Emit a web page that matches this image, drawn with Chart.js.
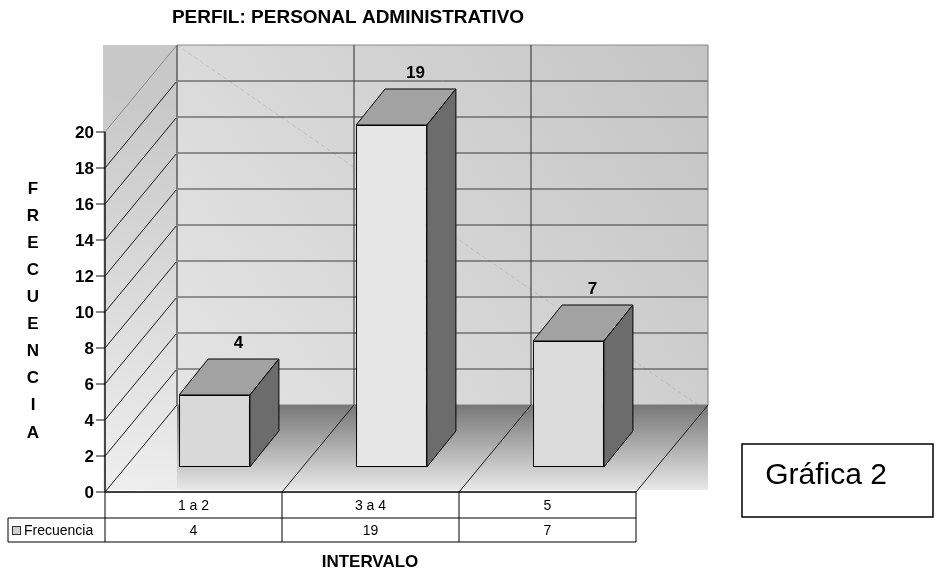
<!DOCTYPE html>
<html>
<head>
<meta charset="utf-8">
<script src="https://cdn.jsdelivr.net/npm/chart.js@4/dist/chart.umd.min.js"></script>
<style>
  html, body { margin: 0; padding: 0; background: #fff; }
  canvas { display: block; }
</style>
</head>
<body>
<canvas id="perfilChart" width="938" height="575"></canvas>
<script>
const categories = ['1 a 2', '3 a 4', '5'];
const frecuencia = [4, 19, 7];
const yTicks = [0, 2, 4, 6, 8, 10, 12, 14, 16, 18, 20];
const seriesName = 'Frecuencia';
const yTitle = 'FRECUENCIA';

const FONT = "'Liberation Sans', Arial, sans-serif";
// offsets from the plane where the bars stand to the front edge / back wall
const FRONT = { dx: -21, dy: 25 };
const BACK = { dx: 51, dy: -62 };
const BAR_DEPTH = { dx: 29, dy: -36 };

function poly(ctx, pts, fill, stroke, lw) {
    ctx.beginPath();
    ctx.moveTo(pts[0][0], pts[0][1]);
    for (let i = 1; i < pts.length; i++) ctx.lineTo(pts[i][0], pts[i][1]);
    ctx.closePath();
    if (fill) { ctx.fillStyle = fill; ctx.fill(); }
    if (stroke) { ctx.strokeStyle = stroke; ctx.lineWidth = lw || 1; ctx.stroke(); }
}

function line(ctx, x1, y1, x2, y2, color, lw) {
    ctx.beginPath();
    ctx.moveTo(x1, y1);
    ctx.lineTo(x2, y2);
    ctx.strokeStyle = color;
    ctx.lineWidth = lw || 1;
    ctx.stroke();
}

const walls3d = {
    id: 'walls3d',
    beforeDatasetsDraw(chart) {
        const ctx = chart.ctx;
        const x = chart.scales.x, y = chart.scales.y;
        const y0 = y.getPixelForValue(0), yMax = y.getPixelForValue(20);
        const backL = x.left + BACK.dx, backR = x.right + BACK.dx;
        const backTop = yMax + BACK.dy, backBot = y0 + BACK.dy;
        const frontL = x.left + FRONT.dx, frontR = x.right + FRONT.dx;
        const frontBot = y0 + FRONT.dy;
        const areaBot = frontBot - 2;
        ctx.save();

        // back wall
        let g = ctx.createLinearGradient(backL, backBot, backR, backTop);
        g.addColorStop(0, '#e4e4e4');
        g.addColorStop(1, '#c4c4c4');
        ctx.fillStyle = g;
        ctx.fillRect(backL, backTop, backR - backL, backBot - backTop);

        // floor band
        g = ctx.createLinearGradient(0, backBot, 0, areaBot);
        g.addColorStop(0, '#777777');
        g.addColorStop(1, '#e8e8e8');
        ctx.fillStyle = g;
        ctx.fillRect(backL, backBot, backR - backL, areaBot - backBot);

        // side wall strip
        g = ctx.createLinearGradient(frontL - 2, areaBot, backL, backTop + 60);
        g.addColorStop(0, '#eeeeee');
        g.addColorStop(1, '#c8c8c8');
        ctx.fillStyle = g;
        ctx.fillRect(frontL - 2, backTop, backL - frontL + 2, areaBot - backTop);

        // faint dashed streak across the back wall
        ctx.setLineDash([4, 3]);
        line(ctx, backL, backTop, backR - 10, backBot, 'rgba(170,170,170,0.5)', 1);
        ctx.setLineDash([]);

        // grid on back wall and side wall
        yTicks.forEach(v => {
            const py = y.getPixelForValue(v);
            const top = v === 20;
            if (v > 0) {
                line(ctx, backL, py + BACK.dy, backR, py + BACK.dy, top ? '#8a8a8a' : '#3c3c3c', 1);
            }
            line(ctx, frontL, py + FRONT.dy, backL, py + BACK.dy, top ? '#8a8a8a' : '#1a1a1a', 1);
        });
        line(ctx, backL, backBot, backR, backBot, '#7a7a7a', 1);

        // category dividers on back wall and floor
        const step = (x.right - x.left) / categories.length;
        for (let i = 0; i <= categories.length; i++) {
            const px = x.left + i * step;
            if (i > 0) {
                line(ctx, px + FRONT.dx, frontBot, px + BACK.dx, backBot, '#1a1a1a', 1);
            }
            const edge = i === 0 || i === categories.length;
            line(ctx, px + BACK.dx, backTop, px + BACK.dx, backBot,
                 edge ? '#7a7a7a' : '#2a2a2a', i === 0 ? 2 : 1);
        }

        // front value axis
        line(ctx, frontL, yMax + FRONT.dy, frontL, frontBot, '#111', 1.5);
        ctx.fillStyle = '#000';
        ctx.font = 'bold 17px ' + FONT;
        ctx.textAlign = 'right';
        ctx.textBaseline = 'middle';
        yTicks.forEach(v => {
            const py = y.getPixelForValue(v) + FRONT.dy;
            line(ctx, frontL - 9, py, frontL, py, '#111', 1);
            ctx.fillText(String(v), frontL - 11, py + 1);
        });
        ctx.restore();
    },
    afterDatasetsDraw(chart) {
        const ctx = chart.ctx;
        const meta = chart.getDatasetMeta(0);
        ctx.save();
        meta.data.forEach((bar, i) => {
            const p = bar.getProps(['x', 'y', 'base', 'width'], true);
            const l = p.x - p.width / 2, r = p.x + p.width / 2;
            const t = p.y, b = p.base;
            const dx = BAR_DEPTH.dx, dy = BAR_DEPTH.dy;
            poly(ctx, [[l, t], [l + dx, t + dy], [r + dx, t + dy], [r, t]], '#a2a2a2', '#000', 1);
            poly(ctx, [[r, t], [r + dx, t + dy], [r + dx, b + dy], [r, b]], '#6c6c6c', '#000', 1);
            ctx.fillStyle = '#000';
            ctx.font = 'bold 17px ' + FONT;
            ctx.textAlign = 'center';
            ctx.textBaseline = 'alphabetic';
            ctx.fillText(String(frecuencia[i]), p.x + 24, t + dy - 11);
        });
        ctx.restore();
    },
    afterDraw(chart) {
        const ctx = chart.ctx;
        const x = chart.scales.x, y = chart.scales.y;
        const top = y.getPixelForValue(0) + FRONT.dy;
        const mid = top + 26, bot = top + 50;
        const step = (x.right - x.left) / categories.length;
        const left = x.left + FRONT.dx, right = x.right + FRONT.dx;
        const legendL = 8;
        ctx.save();

        // data table
        ctx.fillStyle = '#fff';
        ctx.fillRect(left, top + 1, right - left, bot - top - 1);
        ctx.fillRect(legendL, mid, left - legendL, bot - mid);
        line(ctx, left, top, right, top, '#000', 1.5);
        line(ctx, legendL, mid, right, mid, '#000', 1);
        line(ctx, legendL, bot, right, bot, '#000', 1);
        line(ctx, legendL, mid, legendL, bot, '#000', 1);
        for (let i = 0; i <= categories.length; i++) {
            const px = left + i * step;
            line(ctx, px, top, px, bot, '#000', 1);
        }
        ctx.font = '14px ' + FONT;
        ctx.fillStyle = '#000';
        ctx.textAlign = 'center';
        ctx.textBaseline = 'middle';
        categories.forEach((c, i) => {
            const cx = x.getPixelForValue(i) + FRONT.dx;
            ctx.fillText(c, cx, (top + mid) / 2 + 1);
            ctx.fillText(String(frecuencia[i]), cx, (mid + bot) / 2 + 1);
        });
        // legend key
        ctx.fillStyle = '#cfcfcf';
        ctx.fillRect(12.5, mid + 8.5, 8, 8);
        ctx.strokeStyle = '#333';
        ctx.lineWidth = 1;
        ctx.strokeRect(12.5, mid + 8.5, 8, 8);
        ctx.fillStyle = '#000';
        ctx.textAlign = 'left';
        ctx.fillText(seriesName, 24, (mid + bot) / 2 + 1);

        // titles
        ctx.font = 'bold 19px ' + FONT;
        ctx.textAlign = 'center';
        ctx.fillText('PERFIL: PERSONAL ADMINISTRATIVO', 348, 18);
        ctx.font = 'bold 17px ' + FONT;
        ctx.fillText('INTERVALO', 370, 562);
        yTitle.split('').forEach((ch, i) => {
            ctx.fillText(ch, 33, 189 + i * 27.1);
        });

        // caption box
        ctx.strokeStyle = '#000';
        ctx.lineWidth = 1.5;
        ctx.strokeRect(742, 444, 191, 73);
        ctx.font = '30px ' + FONT;
        ctx.fillText('Gráfica 2', 826, 476);
        ctx.restore();
    }
};

new Chart(document.getElementById('perfilChart'), {
    type: 'bar',
    data: {
        labels: categories,
        datasets: [{
            label: seriesName,
            data: frecuencia,
            backgroundColor: ['#d9d9d9', '#e6e6e6', '#dcdcdc'],
            borderColor: '#000',
            borderWidth: 1,
            borderSkipped: false,
            barPercentage: 0.4,
            categoryPercentage: 1
        }]
    },
    options: {
        responsive: false,
        animation: false,
        devicePixelRatio: 1,
        layout: { padding: { left: 126, right: 281, top: 107, bottom: 108 } },
        scales: {
            x: { display: false },
            y: { display: false, min: 0, max: 20 }
        },
        plugins: {
            legend: { display: false },
            tooltip: { enabled: false }
        }
    },
    plugins: [walls3d]
});
</script>
</body>
</html>
